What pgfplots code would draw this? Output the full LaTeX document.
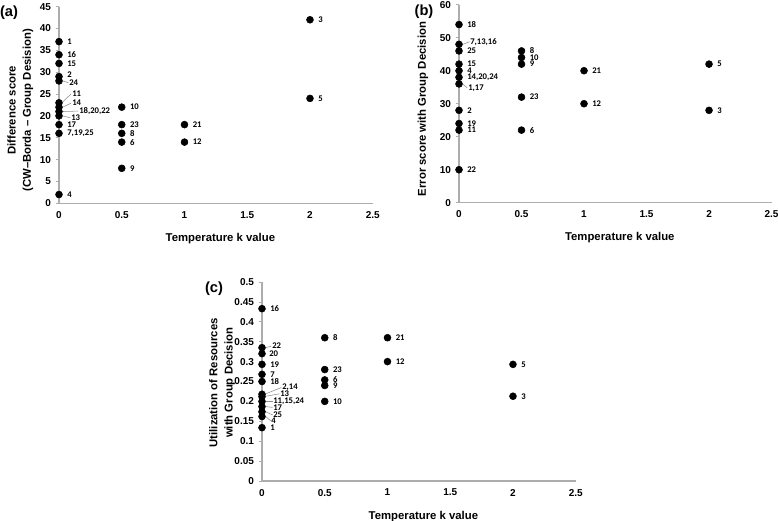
\documentclass[border=0pt]{standalone}
\usepackage{fontspec}
\setmainfont{Liberation Sans}
\newfontfamily\lblfont{Carlito}
\usepackage{pgfplots}
\usepackage{pgfplotstable}
\pgfplotsset{compat=1.18}

\pgfplotstableread{
x y dx dy lab
0 37 8 0 1
0 34 8 0 16
0 32 8 0 15
0 29 8 1.5 2
0 28 10 -2 24
0 23 13 9 11
0 22 13 4 14
0 21 20 0.5 18,20,22
0 20 12 -2 13
0 18 8 0 17
0 16 8 0 7,19,25
0 2 8 0 4
0.5 22 8 0 10
0.5 18 8 0 23
0.5 16 8 0 8
0.5 14 8 0 6
0.5 8 8 0 9
1 18 8 0 21
1 14 8 0 12
2 42 8 0 3
2 24 8 0 5
}\tabA

\pgfplotstableread{
x y dx dy lab
0 54 8 0 18
0 48 11 2.6 7,13,16
0 46 8 0 25
0 42 8 0 15
0 40 8 0 4
0 38 8 0 14,20,24
0 36 9 -4.4 1,17
0 28 8 0 2
0 24 8 0 19
0 22 8 0 11
0 10 8 0 22
0.5 46 8 0 8
0.5 44 8 0 10
0.5 42 8 0 9
0.5 32 8 0 23
0.5 22 8 0 6
1 40 8 0 21
1 30 8 0 12
2 42 8 0 5
2 28 8 0 3
}\tabB

\pgfplotstableread{
x y dx dy lab
0 0.433 8 0 16
0 0.335 10 1.7 22
0 0.32 7 0 20
0 0.293 8 0 19
0 0.268 8 0 7
0 0.25 8 0 18
0 0.218 20 7 2,14
0 0.212 18 2.6 13
0 0.2 11 0 11,15,24
0 0.187 11 -1 17
0 0.174 11 -3.3 25
0 0.162 9 -4.5 4
0 0.134 8 0 1
0.5 0.36 8 0 8
0.5 0.28 8 0 23
0.5 0.254 8 0 6
0.5 0.24 8 0 9
0.5 0.2 8 0 10
1 0.36 8 0 21
1 0.30 8 0 12
2 0.293 8 0 5
2 0.213 8 0 3
}\tabC

\tikzset{lead/.style={black!45, line width=0.4pt}}

\pgfplotsset{
  panel/.style={
    scale only axis,
    anchor=south west,
    axis x line=bottom, axis y line=left,
    axis line style={-, draw=black!32, line width=0.9pt},
    xmin=0, xmax=2.5, xtick={0,0.5,1,1.5,2,2.5},
    x tick style={draw=none},
    y tick style={draw=black!32, line width=0.6pt},
    tick align=outside, major tick length=2.5pt,
    ticklabel style={font=\bfseries\fontsize{7.5}{9}\selectfont},
    /pgf/number format/assume math mode=true,
    xticklabel style={/pgf/number format/fixed},
    yticklabel style={/pgf/number format/fixed, /pgf/number format/precision=2},
    scaled ticks=false,
    clip=false,
    every axis x label/.style={at={(axis description cs:0.5,0)}, anchor=center, xshift=3.4pt, yshift=-26.5pt, font=\bfseries\fontsize{8.5}{10}\selectfont},
    every axis y label/.style={at={(axis description cs:0,0.5)}, rotate=90, anchor=center, align=center, font=\bfseries\fontsize{8.5}{11.5}\selectfont},
    xlabel={Temperature k value},
  },
  pts/.style={only marks, mark=*, mark size=2.6pt, black,
    point meta=explicit symbolic, nodes near coords,
    visualization depends on={\thisrow{dx} \as \dx},
    visualization depends on={\thisrow{dy} \as \dy},
    every node near coord/.style={anchor=west, inner sep=0pt, xshift=\dx*0.75pt, yshift=\dy*0.75pt, font=\lblfont\bfseries\fontsize{6.5}{7}\selectfont, text=black}},
}

\begin{document}
\begin{tikzpicture}
\useasboundingbox (0,0) rectangle (583.5pt,390.75pt);

% (a)
\begin{axis}[panel, at={(44.25pt,238.3pt)}, width=235.3pt, height=147.45pt,
  ymin=0, ymax=45, ytick={0,5,10,15,20,25,30,35,40,45},
  ylabel={Difference score\\(CW--Borda -- Group Desision)},
  every axis y label/.append style={yshift=29pt, xshift=-4pt}]
\addplot[pts] table[x=x, y=y, meta=lab] {\tabA};
\draw[lead] (axis cs:0.03,28) -- (axis cs:0.075,27.6);
\draw[lead] (axis cs:0.03,23.2) -- (axis cs:0.095,25);
\draw[lead] (axis cs:0.03,22) -- (axis cs:0.095,22.9);
\draw[lead] (axis cs:0.03,21) -- (axis cs:0.155,21.1);
\draw[lead] (axis cs:0.03,20) -- (axis cs:0.09,19.55);
\end{axis}

% (b)
\begin{axis}[panel, at={(344.25pt,238.7pt)}, width=234.4pt, height=148.5pt,
  ymin=0, ymax=60, ytick={0,10,20,30,40,50,60},
  ylabel={Error score with Group Decision},
  every axis y label/.append style={yshift=27pt, xshift=-4pt}]
\addplot[pts] table[x=x, y=y, meta=lab] {\tabB};
\draw[lead] (axis cs:0.03,48) -- (axis cs:0.085,48.8);
\draw[lead] (axis cs:0.03,36) -- (axis cs:0.065,34.8);
\end{axis}

% (c)
\begin{axis}[panel, at={(196.5pt,30pt)}, width=235.3pt, height=149.25pt,
  ymin=0, ymax=0.5, ytick={0,0.05,0.1,0.15,0.2,0.25,0.3,0.35,0.4,0.45,0.5},
  ylabel={Utilization of Resources\\with Group Decision},
  every axis y label/.append style={yshift=30pt, xshift=-1pt}]
\addplot[pts] table[x=x, y=y, meta=lab] {\tabC};
\draw[lead] (axis cs:0.03,0.335) -- (axis cs:0.075,0.339);
\draw[lead] (axis cs:0.03,0.219) -- (axis cs:0.155,0.235);
\draw[lead] (axis cs:0.03,0.213) -- (axis cs:0.14,0.219);
\draw[lead] (axis cs:0.03,0.2) -- (axis cs:0.085,0.2);
\draw[lead] (axis cs:0.03,0.187) -- (axis cs:0.085,0.185);
\draw[lead] (axis cs:0.03,0.174) -- (axis cs:0.085,0.166);
\draw[lead] (axis cs:0.03,0.162) -- (axis cs:0.07,0.151);
\end{axis}

\node[font=\bfseries\fontsize{11}{13}\selectfont] at (6.75pt,381.4pt) {(a)};
\node[font=\bfseries\fontsize{11}{13}\selectfont] at (318pt,381.75pt) {(b)};
\node[font=\bfseries\fontsize{11}{13}\selectfont] at (160.5pt,174pt) {(c)};
\end{tikzpicture}
\end{document}
